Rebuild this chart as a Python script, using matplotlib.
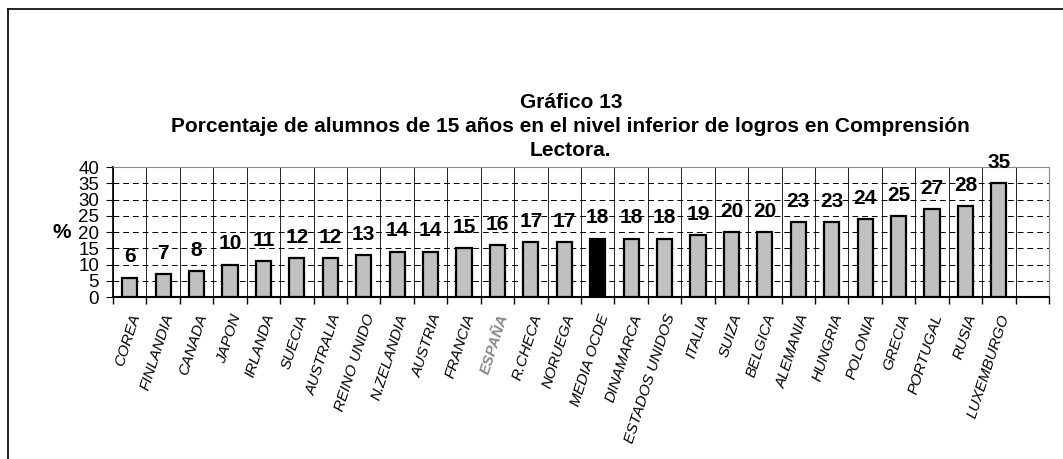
import matplotlib.pyplot as plt
import numpy as np

# datos del grafico 13
paises = ["COREA", "FINLANDIA", "CANADA", "JAPON", "IRLANDA", "SUECIA", "AUSTRALIA",
          "REINO UNIDO", "N.ZELANDIA", "AUSTRIA", "FRANCIA", "ESPAÑA", "R.CHECA",
          "NORUEGA", "MEDIA OCDE", "DINAMARCA", "ESTADOS UNIDOS", "ITALIA", "SUIZA",
          "BELGICA", "ALEMANIA", "HUNGRIA", "POLONIA", "GRECIA", "PORTUGAL", "RUSIA",
          "LUXEMBURGO"]
valores = [6, 7, 8, 10, 11, 12, 12, 13, 14, 14, 15, 16, 17, 17, 18, 18, 18, 19, 20,
           20, 23, 23, 24, 25, 27, 28, 35]
y_ticks = [0, 5, 10, 15, 20, 25, 30, 35, 40]

plt.rcParams['font.family'] = ['Liberation Sans', 'DejaVu Sans']

fig = plt.figure(figsize=(10.63, 4.59), dpi=100)
ax = fig.add_axes([113/1063, 1 - 297/459, (1049-113)/1063, (297-167)/459])

x = np.arange(len(paises))
colores = ['black' if p == "MEDIA OCDE" else '#c0c0c0' for p in paises]
ax.bar(x, valores, width=0.45, color=colores, edgecolor='black', linewidth=1.6, zorder=3)

for xi, v in zip(x, valores):
    ax.annotate(str(v), (xi, v), xytext=(0, 8), textcoords='offset points',
                ha='center', va='bottom', fontsize=15, fontweight='bold')

ax.set_xlim(-0.5, len(paises) + 0.5)
ax.set_ylim(0, 40)
ax.set_yticks(y_ticks)
ax.tick_params(axis='y', labelsize=13.5, length=5, pad=5)

# ticks en los limites de categoria
bordes = np.arange(-0.5, len(paises) + 1, 1)
ax.set_xticks(bordes)
ax.set_xticklabels([])
ax.tick_params(axis='x', length=5, width=1, color='black')
ax.set_xticks(x, minor=True)
ax.set_xticklabels(paises, minor=True, rotation=72, ha='right', rotation_mode='anchor',
                   fontsize=11, style='italic')
ax.tick_params(axis='x', which='minor', length=0, pad=11)
for lbl in ax.get_xticklabels(minor=True):
    if lbl.get_text() == "ESPAÑA":
        lbl.set_color('#888888')
        lbl.set_fontweight('bold')

for b in bordes:
    ax.axvline(b, color='black', linewidth=0.6, zorder=1)
for t in y_ticks[1:-1]:
    ax.axhline(t, color='black', linewidth=0.7, linestyle=(0, (6, 4)), zorder=1)

ax.spines['top'].set_color('#888888')
ax.spines['right'].set_color('#888888')
ax.spines['bottom'].set_linewidth(1.5)
ax.spines['left'].set_linewidth(1.2)

ax.text(-0.055, 0.5, "%", transform=ax.transAxes, fontsize=15, fontweight='bold',
        ha='center', va='center')

fig.text(0.537, 1 - 102/459, "Gráfico 13", ha='center', va='center', fontsize=15,
         fontweight='bold')
fig.text(0.537, 1 - 127/459,
         "Porcentaje de alumnos de 15 años en el nivel inferior de logros en Comprensión",
         ha='center', va='center', fontsize=15, fontweight='bold')
fig.text(0.537, 1 - 150/459, "Lectora.", ha='center', va='center', fontsize=15,
         fontweight='bold')

# marco exterior
fig.add_artist(plt.Line2D([8/1063, 8/1063], [0, 1 - 9/459], color='black', linewidth=1.2))
fig.add_artist(plt.Line2D([8/1063, 1], [1 - 9/459, 1 - 9/459], color='black', linewidth=1.2))

fig.savefig("out.png", dpi=100)
